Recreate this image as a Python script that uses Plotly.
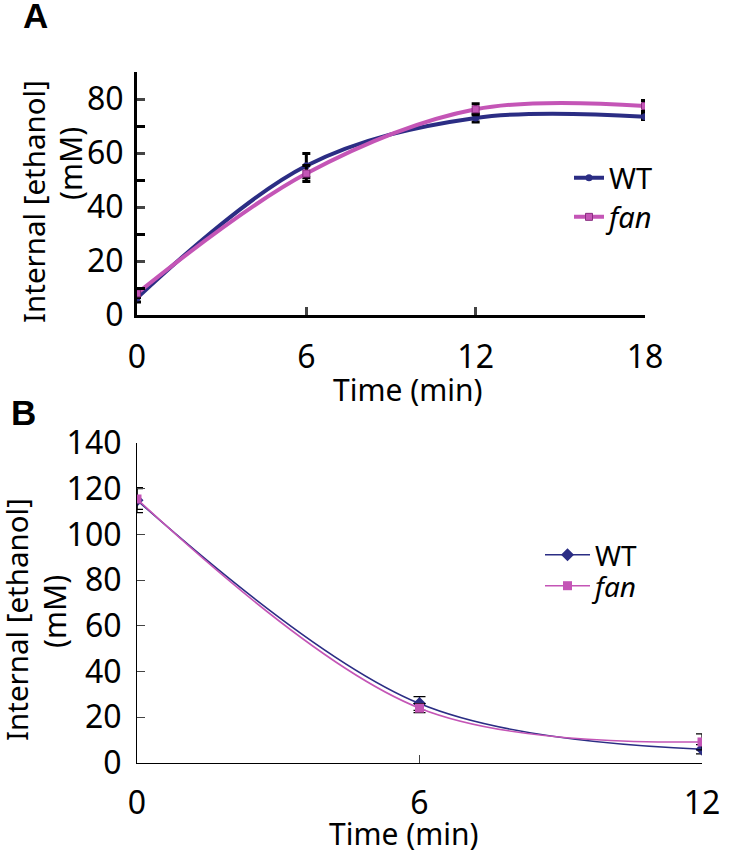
import plotly.graph_objects as go

W, H = 730, 853
def fx(px): return px / W
def fy(py): return 1 - py / H

# ---- data ----
time_a = [0, 6, 12, 18]
wt_a = [6.3, 55.3, 73.0, 73.4]
wt_a_err = [1.5, 4.5, 1.5, 1.0]
fan_a = [8.0, 52.4, 76.2, 77.4]
fan_a_err = [1.5, 3.0, 2.0, 2.0]

time_b = [0, 6, 12]
wt_b = [115.0, 26.0, 6.0]
wt_b_err = [5.5, 3.0, 2.0]
fan_b = [115.5, 24.0, 9.2]
fan_b_err = [4.5, 2.0, 3.5]

x_ticks_a = [0, 6, 12, 18]
y_ticks_a = [0, 20, 40, 60, 80]
x_ticks_b = [0, 6, 12]
y_ticks_b = [0, 20, 40, 60, 80, 100, 120, 140]

NAVY = "#2B2D84"
MAG = "#C455B6"
FONT = "Noto Sans"

fig = go.Figure()

# Panel A
fig.add_trace(go.Scatter(x=time_a, y=wt_a, name="WT", mode="lines+markers",
    line=dict(color=NAVY, width=4, shape="spline", smoothing=1),
    marker=dict(symbol="circle", size=7, color=NAVY),
    error_y=dict(type="data", array=wt_a_err, color="black", thickness=3, width=4),
    xaxis="x", yaxis="y", legend="legend"))
fig.add_trace(go.Scatter(x=time_a, y=fan_a, name="<i>fan</i>", mode="lines+markers",
    line=dict(color=MAG, width=4, shape="spline", smoothing=1),
    marker=dict(symbol="square", size=7, color=MAG, line=dict(color="#8A2E80", width=1)),
    error_y=dict(type="data", array=fan_a_err, color="black", thickness=3, width=4),
    xaxis="x", yaxis="y", legend="legend2"))

# Panel B
fig.add_trace(go.Scatter(x=time_b, y=wt_b, name="WT", mode="lines+markers",
    line=dict(color=NAVY, width=1.6, shape="spline", smoothing=1),
    marker=dict(symbol="diamond", size=10, color=NAVY),
    error_y=dict(type="data", array=wt_b_err, color="black", thickness=1.2, width=6),
    xaxis="x2", yaxis="y2", legend="legend3"))
fig.add_trace(go.Scatter(x=time_b, y=fan_b, name="<i>fan</i>", mode="lines+markers",
    line=dict(color=MAG, width=1.6, shape="spline", smoothing=1),
    marker=dict(symbol="square", size=9, color=MAG),
    error_y=dict(type="data", array=fan_b_err, color="black", thickness=1.2, width=6),
    xaxis="x2", yaxis="y2", legend="legend4"))

tickfont = dict(family=FONT, size=32, color="black")

fig.update_layout(
    width=W, height=H, autosize=False,
    margin=dict(l=0, r=0, t=0, b=0, pad=0, autoexpand=False),
    paper_bgcolor="white", plot_bgcolor="white",
    font=dict(family=FONT, color="black"),
    xaxis=dict(domain=[fx(137), fx(645)], range=[0, 18], anchor="y",
               tickvals=x_ticks_a, ticks="inside", ticklen=8, tickwidth=3,
               showline=True, linewidth=3, linecolor="black", showgrid=False,
               zeroline=False, tickfont=tickfont, ticklabelstandoff=12),
    yaxis=dict(domain=[fy(315), fy(72)], range=[0, 90], anchor="x",
               tickvals=y_ticks_a, ticks="inside", ticklen=8, tickwidth=3,
               minor=dict(dtick=10, tick0=0, ticks="inside", ticklen=8, tickwidth=3, tickcolor="black"),
               showline=True, linewidth=3, linecolor="black", showgrid=False,
               zeroline=False, tickfont=tickfont, ticklabelstandoff=4),
    xaxis2=dict(domain=[fx(137), fx(702)], range=[0, 12], anchor="y2",
                tickvals=x_ticks_b, ticks="inside", ticklen=8, tickwidth=1.2,
                showline=True, linewidth=1.2, linecolor="black", showgrid=False,
                zeroline=False, tickfont=tickfont, ticklabelstandoff=11),
    yaxis2=dict(domain=[fy(763), fy(443)], range=[0, 140], anchor="x2",
                tickvals=y_ticks_b, ticks="inside", ticklen=8, tickwidth=1.2,
                showline=True, linewidth=1.2, linecolor="black", showgrid=False,
                zeroline=False, tickfont=tickfont, ticklabelstandoff=8),
    legend=dict(x=fx(569), y=fy(178), xanchor="left", yanchor="middle",
                font=dict(family=FONT, size=29), itemwidth=30, bgcolor="rgba(0,0,0,0)"),
    legend2=dict(x=fx(569), y=fy(217), xanchor="left", yanchor="middle",
                 font=dict(family=FONT, size=29), itemwidth=30, bgcolor="rgba(0,0,0,0)"),
    legend3=dict(x=fx(540), y=fy(555), xanchor="left", yanchor="middle",
                 font=dict(family=FONT, size=28), itemwidth=45, bgcolor="rgba(0,0,0,0)"),
    legend4=dict(x=fx(540), y=fy(586), xanchor="left", yanchor="middle",
                 font=dict(family=FONT, size=28), itemwidth=45, bgcolor="rgba(0,0,0,0)"),
    showlegend=True,
)

ann = []
def add(text, xpx, ypx, size, angle=0, bold=False):
    ann.append(dict(text=("<b>%s</b>" % text) if bold else text, x=fx(xpx), y=fy(ypx),
                    xref="paper", yref="paper", showarrow=False, textangle=angle,
                    xanchor="center", yanchor="middle",
                    font=dict(family=FONT if not bold else "Liberation Sans", size=size, color="black")))

add("A", 35, 16, 35, bold=True)
add("B", 24, 412, 35, bold=True)
add("Time (min)", 408, 389, 30)
add("Time (min)", 404, 833, 30)
add("Internal [ethanol]", 34, 202, 29.5, angle=-90)
add("(mM)", 70, 164, 30, angle=-90)
add("Internal [ethanol]", 16, 620, 29.5, angle=-90)
add("(mM)", 54, 612, 30, angle=-90)
fig.update_layout(annotations=ann)

fig.write_html("out.html", config={"displayModeBar": False},
               post_script="document.body.style.margin='0';document.body.style.overflow='hidden';")
